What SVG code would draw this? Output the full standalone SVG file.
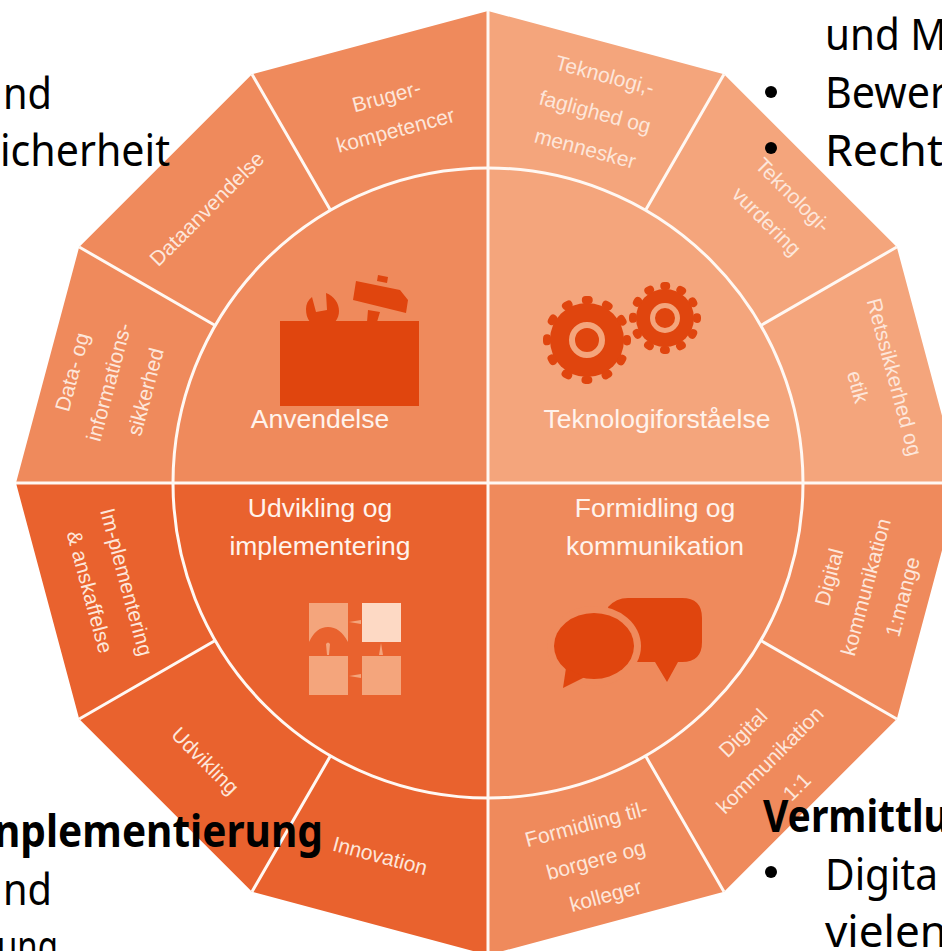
<svg xmlns="http://www.w3.org/2000/svg" width="942" height="951" viewBox="0 0 942 951">
<style>
.a{fill:#EF8A5C}.t{fill:#F4A57C}.u{fill:#E9622E}.ic{fill:#E0450E}
.s{font-family:"Liberation Sans",Arial,sans-serif;font-size:21px;fill:#FDE6DA;text-anchor:middle}
.m{font-family:"Liberation Sans",Arial,sans-serif;font-size:26.500px;fill:#FFF3EC;text-anchor:middle}
.b{font-family:"Noto Sans","Open Sans",sans-serif;font-size:44px;fill:#000}
.bb{font-weight:700}
.sp{stroke:#FFF8F3;stroke-width:3;fill:none}
</style>
<rect width="942" height="951" fill="#fff"/>
<g id="seg-brugerkompetencer"><path class="a" d="M488 11L252 74.200L330.500 210.200A315 315 0 0 1 488 168Z"/><g transform="translate(391,113) rotate(-15)"><text class="s" y="-10">Bruger-</text><text class="s" y="25">kompetencer</text></g></g>
<g id="seg-dataanvendelse"><path class="a" d="M252 74.200L79.200 247L215.200 325.500A315 315 0 0 1 330.500 210.200Z"/><text class="s" transform="translate(207,209) rotate(-45)" y="7">Dataanvendelse</text></g>
<g id="seg-datasikkerhed"><path class="a" d="M79.200 247L16 483L173 483A315 315 0 0 1 215.200 325.500Z"/><g transform="translate(109,382) rotate(-75)"><text class="s" y="-31">Data- og</text><text class="s" y="7">informations-</text><text class="s" y="45">sikkerhed</text></g></g>
<g id="seg-teknologi-faglighed"><path class="t" d="M488 11L724 74.200L645.500 210.200A315 315 0 0 0 488 168Z"/><g transform="translate(595,112) rotate(15)"><text class="s" y="-31">Teknologi,-</text><text class="s" y="7">faglighed og</text><text class="s" y="45">mennesker</text></g></g>
<g id="seg-teknologivurdering"><path class="t" d="M724 74.200L896.800 247L760.800 325.500A315 315 0 0 0 645.500 210.200Z"/><g transform="translate(780,208) rotate(45)"><text class="s" y="-11">Teknologi-</text><text class="s" y="26">vurdering</text></g></g>
<g id="seg-retssikkerhed"><path class="t" d="M896.800 247L960 483L803 483A315 315 0 0 0 760.800 325.500Z"/><g transform="translate(876,382) rotate(75)"><text class="s" y="-12">Retssikkerhed og</text><text class="s" y="26">etik</text></g></g>
<g id="seg-kommunikation-mange"><path class="a" d="M960 483L896.800 719L760.800 640.500A315 315 0 0 0 803 483Z"/><g transform="translate(866,587) rotate(-75)"><text class="s" y="-31">Digital</text><text class="s" y="7">kommunikation</text><text class="s" y="45">1:mange</text></g></g>
<g id="seg-kommunikation-1-1"><path class="a" d="M896.800 719L724 891.800L645.500 755.800A315 315 0 0 0 760.800 640.500Z"/><g transform="translate(770,760) rotate(-45)"><text class="s" y="-31">Digital</text><text class="s" y="7">kommunikation</text><text class="s" y="45">1:1</text></g></g>
<g id="seg-formidling"><path class="a" d="M724 891.800L488 955L488 798A315 315 0 0 0 645.500 755.800Z"/><g transform="translate(596,860) rotate(-15)"><text class="s" y="-30">Formidling til-</text><text class="s" y="7">borgere og</text><text class="s" y="44">kolleger</text></g></g>
<g id="seg-innovation"><path class="u" d="M488 955L252 891.800L330.500 755.800A315 315 0 0 0 488 798Z"/><text class="s" transform="translate(380,856) rotate(15)" y="7">Innovation</text></g>
<g id="seg-udvikling"><path class="u" d="M252 891.800L79.200 719L215.200 640.500A315 315 0 0 0 330.500 755.800Z"/><text class="s" transform="translate(205,761) rotate(45)" y="7">Udvikling</text></g>
<g id="seg-implementering"><path class="u" d="M79.200 719L16 483L173 483A315 315 0 0 0 215.200 640.500Z"/><g transform="translate(108,587) rotate(75)"><text class="s" y="-12">Im-plementering</text><text class="s" y="26">&amp; anskaffelse</text></g></g>

<g id="node-anvendelse"><path class="a" d="M488 483L173 483A315 315 0 0 1 488 168Z"/>
<rect class="ic" x="280" y="321" width="139" height="85"/>
<path class="ic" d="M356 281L400 290L408 300L406 313L353 300ZM368 310L380 312L377 322L367 322ZM378 275L388 277L387 283L377 281Z"/>
<path class="ic" d="M312 297L316 312L327 310L326 293C334 296 339 303 339 311C339 315 338 318 335 322L310 322C307 318 306 314 306 309C306 304 308 300 312 297Z"/>
<text class="m" x="320" y="428">Anvendelse</text></g>

<g id="node-teknologiforstaaelse"><path class="t" d="M488 483L803 483A315 315 0 0 0 488 168Z"/>
<circle class="ic" cx="587" cy="340" r="37"/><circle cx="587" cy="340" r="40" fill="none" stroke="#E0450E" stroke-width="8" stroke-linecap="round" stroke-dasharray="3 17.944" stroke-dashoffset="1.500"/>
<circle cx="587" cy="340" r="15" fill="none" stroke="#F4A57C" stroke-width="6"/>
<circle class="ic" cx="665" cy="318" r="29"/><circle cx="665" cy="318" r="32" fill="none" stroke="#E0450E" stroke-width="8" stroke-linecap="round" stroke-dasharray="2 14.755" stroke-dashoffset="1"/>
<circle cx="665" cy="318" r="12.500" fill="none" stroke="#F4A57C" stroke-width="5"/>
<text class="m" x="657" y="428">Teknologiforståelse</text></g>

<g id="node-formidling"><path class="a" d="M488 483L803 483A315 315 0 0 1 488 798Z"/>
<path class="ic" d="M608 607Q616 598 628 598L682 598Q702 598 702 618L702 642Q702 662 682 662L678 662L667 682L655 662L620 662Z"/>
<ellipse class="a" cx="594" cy="646" rx="47" ry="40"/>
<ellipse class="ic" cx="594" cy="646" rx="40" ry="33"/>
<path class="ic" d="M566 668L563 688L585 677Z"/>
<text class="m" x="655" y="517">Formidling og</text><text class="m" x="655" y="555">kommunikation</text></g>

<g id="node-udvikling"><path class="u" d="M488 483L173 483A315 315 0 0 0 488 798Z"/>
<path class="t" d="M309 603H348V642Q340 627 328 627Q316 627 309 642Z"/>
<rect x="362" y="603" width="39" height="39" fill="#FDD9C4"/>
<rect class="t" x="309" y="656" width="39" height="39"/><rect class="t" x="362" y="656" width="39" height="39"/>
<path class="t" d="M349 622L361 620V624ZM349 676L361 674V678ZM381 643L383 655H379ZM326 644Q328 641 330 644L329 655H327Z"/>
<text class="m" x="320" y="517">Udvikling og</text><text class="m" x="320" y="555">implementering</text></g>

<g id="connectors" class="sp">
<circle cx="488" cy="483" r="315"/>
<path d="M488 11V955M16 483H942"/>
<path d="M330.500 210.200L252 74.200M215.200 325.500L79.200 247M645.500 210.200L724 74.200M760.800 325.500L896.800 247M760.800 640.500L896.800 719M645.500 755.800L724 891.800M330.500 755.800L252 891.800M215.200 640.500L79.200 719"/>
</g>

<g id="overlay-text">
<text class="b" x="3" y="109" textLength="49" lengthAdjust="spacingAndGlyphs">nd</text>
<text class="b" x="0" y="166" textLength="170" lengthAdjust="spacingAndGlyphs">icherheit</text>
<text class="b" x="825" y="50" textLength="122" lengthAdjust="spacingAndGlyphs">und M</text>
<circle cx="771" cy="92" r="6"/><text class="b" x="825" y="108" textLength="122" lengthAdjust="spacingAndGlyphs">Bewer</text>
<circle cx="771" cy="148" r="6"/><text class="b" x="825" y="166" textLength="118" lengthAdjust="spacingAndGlyphs">Recht</text>
<text class="b bb" x="-6" y="847" textLength="329" lengthAdjust="spacingAndGlyphs">nplementierung</text>
<text class="b" x="3" y="905" textLength="49" lengthAdjust="spacingAndGlyphs">nd</text>
<text class="b" x="-3" y="962" textLength="61" lengthAdjust="spacingAndGlyphs">ung</text>
<text class="b bb" x="763" y="832" textLength="186" lengthAdjust="spacingAndGlyphs">Vermittlu</text>
<circle cx="771" cy="872" r="6"/><text class="b" x="825" y="890" textLength="113" lengthAdjust="spacingAndGlyphs">Digita</text>
<text class="b" x="825" y="947" textLength="122" lengthAdjust="spacingAndGlyphs">vielen</text>
</g>
</svg>
